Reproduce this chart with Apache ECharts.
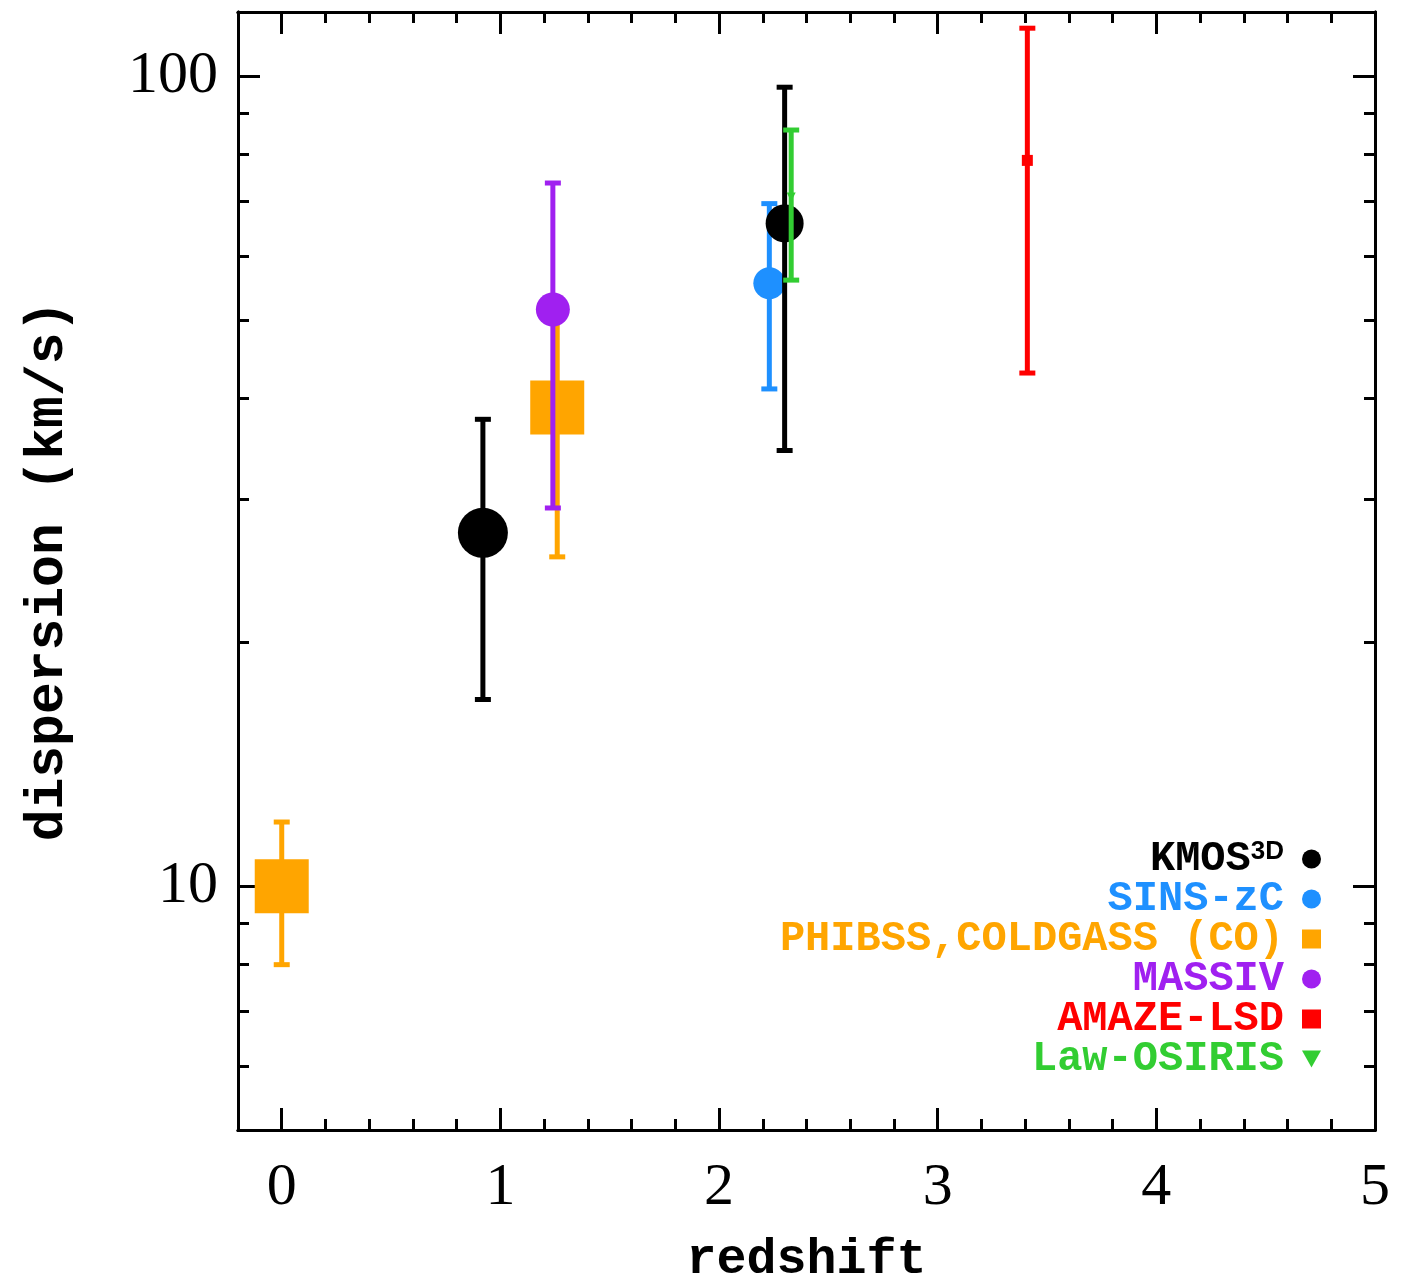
<!DOCTYPE html>
<html>
<head>
<meta charset="utf-8">
<script src="https://cdn.jsdelivr.net/npm/echarts@6/dist/echarts.min.js"></script>
<style>
  html, body { margin: 0; padding: 0; background: #fff; }
  #chart { width: 1411px; height: 1285px; }
</style>
</head>
<body>
<div id="chart"></div>
<script>
// Velocity dispersion vs redshift for several IFU / CO surveys
const kmosZ = [0.92, 2.30];
const kmosSigma = [27.3, 65.8];
const kmosLo = [17.0, 34.5];
const kmosHi = [37.7, 96.9];
const kmosSize = [50, 38];

const sinsZ = [2.23];
const sinsSigma = [55.5];
const sinsLo = [41.1];
const sinsHi = [69.6];

const phibssZ = [0.0, 1.26];
const phibssSigma = [10.0, 39.0];
const phibssLo = [8.0, 25.5];
const phibssHi = [12.0, 52.6];

const massivZ = [1.24];
const massivSigma = [51.5];
const massivLo = [29.3];
const massivHi = [73.8];

const amazeZ = [3.41];
const amazeSigma = [78.7];
const amazeLo = [43.0];
const amazeHi = [114.6];

const lawZ = [2.33];
const lawSigma = [70.9];
const lawLo = [56.0];
const lawHi = [85.8];

const xMajorTicks = [0, 1, 2, 3, 4, 5];
const xMinorTicks = [0.2, 0.4, 0.6, 0.8, 1.2, 1.4, 1.6, 1.8, 2.2, 2.4, 2.6, 2.8,
                     3.2, 3.4, 3.6, 3.8, 4.2, 4.4, 4.6, 4.8];
const yMajorTicks = [10, 100];
const yMinorTicks = [6, 7, 8, 9, 20, 30, 40, 50, 60, 70, 80, 90];

const surveys = [
  { name: 'PHIBSS,COLDGASS (CO)', color: '#FFA500', symbol: 'rect', z: phibssZ, s: phibssSigma, lo: phibssLo, hi: phibssHi, size: [54, 54] },
  { name: 'MASSIV', color: '#A020F0', symbol: 'circle', z: massivZ, s: massivSigma, lo: massivLo, hi: massivHi, size: [34] },
  { name: 'SINS-zC', color: '#1E90FF', symbol: 'circle', z: sinsZ, s: sinsSigma, lo: sinsLo, hi: sinsHi, size: [32] },
  { name: 'KMOS3D', color: '#000000', symbol: 'circle', z: kmosZ, s: kmosSigma, lo: kmosLo, hi: kmosHi, size: kmosSize },
  { name: 'AMAZE-LSD', color: '#FF0000', symbol: 'rect', z: amazeZ, s: amazeSigma, lo: amazeLo, hi: amazeHi, size: [11] },
  { name: 'Law-OSIRIS', color: '#32CD32', symbol: 'triangle', z: lawZ, s: lawSigma, lo: lawLo, hi: lawHi, size: [9] }
];

const downTriangle = 'path://M0,0 L10,0 L5,9 Z';

function errorBarSeries(sv, zLevel) {
  return {
    type: 'custom',
    name: sv.name + ' err',
    z: zLevel,
    xAxisIndex: 0,
    yAxisIndex: 0,
    data: sv.z.map((z, i) => [z, sv.lo[i], sv.hi[i]]),
    encode: { x: 0, y: [1, 2] },
    renderItem: function (params, api) {
      const x = api.value(0);
      const pLo = api.coord([x, api.value(1)]);
      const pHi = api.coord([x, api.value(2)]);
      const hw = 8;
      const st = { stroke: sv.color, lineWidth: 5 };
      return {
        type: 'group',
        children: [
          { type: 'line', shape: { x1: pLo[0], y1: pLo[1], x2: pHi[0], y2: pHi[1] }, style: st },
          { type: 'line', shape: { x1: pLo[0] - hw, y1: pLo[1], x2: pLo[0] + hw, y2: pLo[1] }, style: st },
          { type: 'line', shape: { x1: pHi[0] - hw, y1: pHi[1], x2: pHi[0] + hw, y2: pHi[1] }, style: st }
        ]
      };
    }
  };
}

function markerSeries(sv, zLevel) {
  return {
    type: 'scatter',
    name: sv.name,
    z: zLevel,
    xAxisIndex: 0,
    yAxisIndex: 0,
    symbol: sv.symbol === 'triangle' ? downTriangle : sv.symbol,
    itemStyle: { color: sv.color, opacity: 1 },
    emphasis: { disabled: true },
    data: sv.z.map((z, i) => ({ value: [z, sv.s[i]], symbolSize: sv.size[i] }))
  };
}

const series = [];
surveys.forEach((sv, k) => {
  series.push(errorBarSeries(sv, 2 + k * 2));
  series.push(markerSeries(sv, 3 + k * 2));
});

const legendOrder = ['KMOS3D', 'SINS-zC', 'PHIBSS,COLDGASS (CO)', 'MASSIV', 'AMAZE-LSD', 'Law-OSIRIS'];
const legendData = legendOrder.map(n => {
  const sv = surveys.find(s => s.name === n);
  return {
    name: n,
    icon: sv.symbol === 'triangle' ? downTriangle : sv.symbol,
    itemStyle: { color: sv.color },
    textStyle: { color: sv.color }
  };
});

const axisLine = { show: true, onZero: false, lineStyle: { color: '#000', width: 3 } };
const xRange = { min: -0.2, max: 5 };
const yRange = { min: 5, max: 120 };

function xAxisDef(position, ticks, len, showLabels) {
  return Object.assign({
    type: 'value',
    position: position,
    axisLine: axisLine,
    splitLine: { show: false },
    axisTick: { show: true, inside: true, length: len, customValues: ticks, lineStyle: { color: '#000', width: 3 } },
    axisLabel: showLabels ? {
      show: true, customValues: ticks, margin: 28,
      fontFamily: 'Liberation Serif', fontSize: 60, color: '#000'
    } : { show: false }
  }, xRange);
}

function yAxisDef(position, ticks, len, showLabels) {
  return Object.assign({
    type: 'log',
    logBase: 10,
    position: position,
    axisLine: axisLine,
    splitLine: { show: false },
    axisTick: { show: true, inside: true, length: len, customValues: ticks, lineStyle: { color: '#000', width: 3 } },
    axisLabel: showLabels ? {
      show: true, customValues: ticks, margin: 20,
      fontFamily: 'Liberation Serif', fontSize: 60, color: '#000'
    } : { show: false }
  }, yRange);
}

const xAxes = [
  Object.assign(xAxisDef('bottom', xMajorTicks, 22, true), {
    name: 'redshift', nameLocation: 'middle', nameGap: 105,
    nameTextStyle: { fontFamily: 'Liberation Mono', fontWeight: 'bold', fontSize: 50, color: '#000' }
  }),
  xAxisDef('bottom', xMinorTicks, 11, false),
  xAxisDef('top', xMajorTicks, 22, false),
  xAxisDef('top', xMinorTicks, 11, false)
];

const yAxes = [
  Object.assign(yAxisDef('left', yMajorTicks, 22, true), {
    name: 'dispersion (km/s)', nameLocation: 'middle', nameGap: 163,
    nameTextStyle: { fontFamily: 'Liberation Mono', fontWeight: 'bold', fontSize: 53, color: '#000' }
  }),
  yAxisDef('left', yMinorTicks, 11, false),
  yAxisDef('right', yMajorTicks, 22, false),
  yAxisDef('right', yMinorTicks, 11, false)
];

const chart = echarts.init(document.getElementById('chart'), null, { renderer: 'canvas' });
chart.setOption({
  backgroundColor: '#ffffff',
  animation: false,
  grid: { left: 238, top: 12, right: 36, bottom: 155, containLabel: false, outerBoundsMode: 'none' },
  xAxis: xAxes,
  yAxis: yAxes,
  legend: {
    data: legendData,
    orient: 'vertical',
    align: 'right',
    right: 90,
    top: 838,
    padding: 0,
    itemGap: -2,
    itemWidth: 19,
    itemHeight: 19,
    selectedMode: false,
    formatter: function (name) {
      return name === 'KMOS3D' ? 'KMOS{sup|3D}' : name;
    },
    textStyle: {
      fontFamily: 'Liberation Mono',
      fontWeight: 'bold',
      fontSize: 42,
      lineHeight: 40,
      padding: [0, 13, 0, 0],
      rich: {
        sup: {
          fontFamily: 'Liberation Sans',
          fontWeight: 'bold',
          fontSize: 26,
          lineHeight: 22,
          verticalAlign: 'top',
          color: '#000'
        }
      }
    }
  },
  series: series
});
</script>
</body>
</html>
